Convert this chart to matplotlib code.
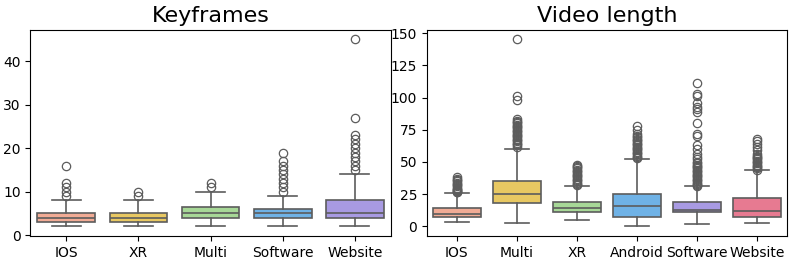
import numpy as np
import matplotlib.pyplot as plt

# Keyframes
kf_cats = ["IOS", "XR", "Multi", "Software", "Website"]
kf_q1 = [3, 3, 4, 4, 4]
kf_med = [4, 4, 5, 5, 5]
kf_q3 = [5, 5, 6.5, 6, 8]
kf_lo = [2, 2, 2, 2, 2]
kf_hi = [8, 8, 10, 9, 14]
kf_fliers = [
    [9, 10, 11, 12, 16],
    [9, 10],
    [11, 12],
    [10, 11, 12, 13, 14, 15, 16, 17, 19],
    [15, 16, 17, 18, 19, 20, 21, 22, 23, 27, 45],
]

# Video length
vl_cats = ["IOS", "Multi", "XR", "Android", "Software", "Website"]
vl_q1 = [7, 18, 11, 7.5, 11, 7.5]
vl_med = [10, 25.5, 14, 16, 13, 12]
vl_q3 = [14.5, 35, 19, 25.5, 19, 22]
vl_lo = [3.5, 3, 5, 0, 2, 2.5]
vl_hi = [26, 60, 31, 52.5, 31, 43.5]
vl_fliers = [
    [26.5, 27, 27.5, 28, 28.5, 29, 30, 31, 32, 33, 34, 35, 36, 37, 38],
    [62, 63, 64, 65, 66, 67, 68, 69, 70, 71, 72, 73, 74, 75, 76, 77, 78,
     79, 80, 81, 82, 83, 98, 101, 145],
    [32, 33, 34, 35, 36, 37, 38, 39, 40, 41, 42, 43, 44, 45, 46, 47, 48],
    [53, 54, 55, 56, 57, 58, 59, 60, 61, 62, 63, 64, 65, 66, 67, 68, 69,
     70, 72, 75, 78],
    [31, 32, 33, 34, 35, 36, 37, 38, 39, 40, 41, 42, 43, 44, 45, 46, 47,
     48, 49, 50, 52, 54, 56, 60, 63, 70, 72, 80, 89, 91, 93, 96, 101, 103, 111],
    [44, 45, 46, 47, 48, 49, 50, 51, 52, 53, 54, 55, 56, 59, 62, 64, 66, 68],
]

colors = ["#F1AB95", "#E8C862", "#A7D897", "#6FB2E6", "#A89AE2", "#E77A91"]


def draw(ax, cats, q1, med, q3, lo, hi, fliers, title):
    stats = []
    for i, c in enumerate(cats):
        stats.append(dict(label=c, q1=q1[i], med=med[i], q3=q3[i],
                          whislo=lo[i], whishi=hi[i], fliers=fliers[i]))
    lc = "#5c5c5c"
    bp = ax.bxp(stats, positions=range(len(cats)), widths=0.8,
                patch_artist=True,
                boxprops=dict(edgecolor=lc, linewidth=1.2),
                medianprops=dict(color=lc, linewidth=1.2),
                whiskerprops=dict(color=lc, linewidth=1.2),
                capprops=dict(color=lc, linewidth=1.2),
                flierprops=dict(marker="o", markerfacecolor="none",
                                markeredgecolor=lc, markersize=6,
                                markeredgewidth=0.9))
    for patch, col in zip(bp["boxes"], colors):
        patch.set_facecolor(col)
    for cap in bp["caps"]:
        x = cap.get_xdata()
        m = x.mean()
        cap.set_xdata([m - 0.2, m + 0.2])
    ax.set_xlim(-0.5, len(cats) - 0.5)
    ax.set_title(title, fontsize=16)
    ax.tick_params(labelsize=10)


fig, (ax1, ax2) = plt.subplots(1, 2, figsize=(7.97, 2.62), dpi=100)
draw(ax1, kf_cats, kf_q1, kf_med, kf_q3, kf_lo, kf_hi, kf_fliers, "Keyframes")
draw(ax2, vl_cats, vl_q1, vl_med, vl_q3, vl_lo, vl_hi, vl_fliers, "Video length")
ax1.set_yticks([0, 10, 20, 30, 40])
ax2.set_yticks([0, 25, 50, 75, 100, 125, 150])
fig.subplots_adjust(left=0.038, right=0.988, top=0.885, bottom=0.1, wspace=0.1)
fig.savefig("out.png")
